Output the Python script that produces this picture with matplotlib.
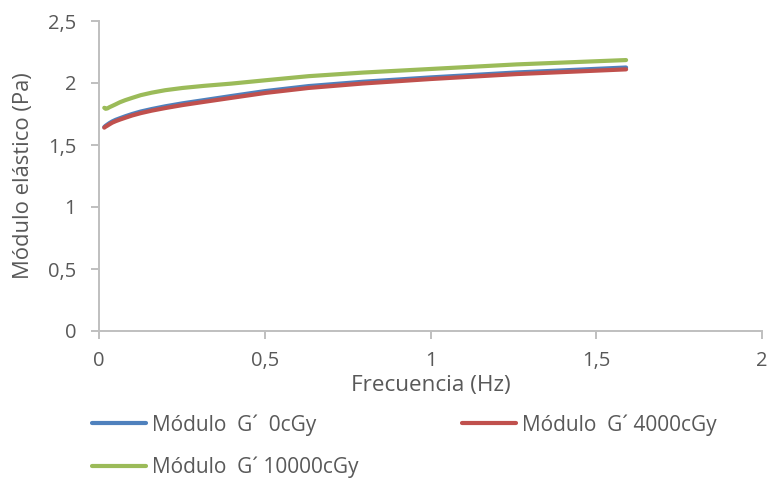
import matplotlib
matplotlib.use("Agg")
import matplotlib.pyplot as plt
from matplotlib.ticker import FixedLocator, FuncFormatter

plt.rcParams['font.family'] = ['Open Sans', 'DejaVu Sans']

# Frequency sweep (Hz) and elastic modulus G' (Pa) for each dose
frecuencia = [0.0159, 0.0200, 0.0252, 0.0317, 0.0399, 0.0502, 0.0632, 0.0796, 0.100, 0.126,
              0.159, 0.200, 0.252, 0.317, 0.399, 0.502, 0.632, 0.796, 1.000, 1.260, 1.590]
g_0cgy = [1.645, 1.655, 1.665, 1.677, 1.690, 1.703, 1.716, 1.732, 1.750, 1.770,
          1.790, 1.812, 1.836, 1.862, 1.895, 1.935, 1.975, 2.010, 2.045, 2.085, 2.125]
g_4000cgy = [1.640, 1.648, 1.656, 1.667, 1.680, 1.692, 1.705, 1.720, 1.738, 1.757,
             1.777, 1.798, 1.822, 1.848, 1.880, 1.920, 1.960, 1.996, 2.032, 2.072, 2.110]
g_10000cgy = [1.800, 1.792, 1.795, 1.805, 1.815, 1.828, 1.845, 1.862, 1.880, 1.902,
              1.922, 1.942, 1.960, 1.977, 1.995, 2.022, 2.055, 2.084, 2.113, 2.150, 2.185]

series_labels = ["Módulo  G´  0cGy", "Módulo  G´ 4000cGy", "Módulo  G´ 10000cGy"]
series_colors = ["#4F81BD", "#C0504D", "#9BBB59"]

x_ticks = [0, 0.5, 1, 1.5, 2]
y_ticks = [0, 0.5, 1, 1.5, 2, 2.5]

W, H = 768, 479
fig = plt.figure(figsize=(W / 100, H / 100), dpi=100)
ax = fig.add_axes([99 / W, 1 - 331 / H, 663 / W, 310 / H])

lines = []
for vals, lab, col in zip([g_0cgy, g_4000cgy, g_10000cgy], series_labels, series_colors):
    ln, = ax.plot(frecuencia, vals, color=col, lw=3.0, label=lab,
                  solid_capstyle='round', solid_joinstyle='round')
    lines.append(ln)

ax.set_xlim(0, 2)
ax.set_ylim(0, 2.5)
ax.xaxis.set_major_locator(FixedLocator(x_ticks))
ax.yaxis.set_major_locator(FixedLocator(y_ticks))
fmt = FuncFormatter(lambda v, p: f"{v:g}".replace(".", ","))
ax.xaxis.set_major_formatter(fmt)
ax.yaxis.set_major_formatter(fmt)

grey = "#BFBFBF"
text_grey = "#595959"
for side in ("top", "right"):
    ax.spines[side].set_visible(False)
for side in ("left", "bottom"):
    ax.spines[side].set_color(grey)
    ax.spines[side].set_linewidth(1.4)
ax.tick_params(axis='both', direction='out', length=5.5, width=1.4, color=grey,
               labelcolor=text_grey, labelsize=14.5)
ax.tick_params(axis='y', pad=11)
ax.tick_params(axis='x', pad=9)

ax.set_xlabel("Frecuencia (Hz)", fontsize=16.2, color=text_grey)
ax.xaxis.set_label_coords(0.5, (331 - 386) / 310)
ax.xaxis.label.set_va('center')
ax.set_ylabel("Módulo elástico (Pa)", fontsize=15.8, color=text_grey)
ax.yaxis.set_label_coords((24 - 99) / 663, 0.5)
ax.yaxis.label.set_va('center')

# legend filled column-wise: first column holds 0 and 10000 cGy
order = [0, 2, 1]
leg = ax.legend([lines[i] for i in order], [series_labels[i] for i in order],
                loc='upper left', bbox_to_anchor=(92 / W, 1 - 414 / H),
                bbox_transform=fig.transFigure, ncol=2, frameon=False,
                fontsize=15, handlelength=2.6, handletextpad=0.29,
                columnspacing=4.95, labelspacing=1.0, borderpad=0, borderaxespad=0)
for t in leg.get_texts():
    t.set_color(text_grey)
for h in leg.get_lines():
    h.set_linewidth(3.0)

fig.savefig("out.png", dpi=100)
